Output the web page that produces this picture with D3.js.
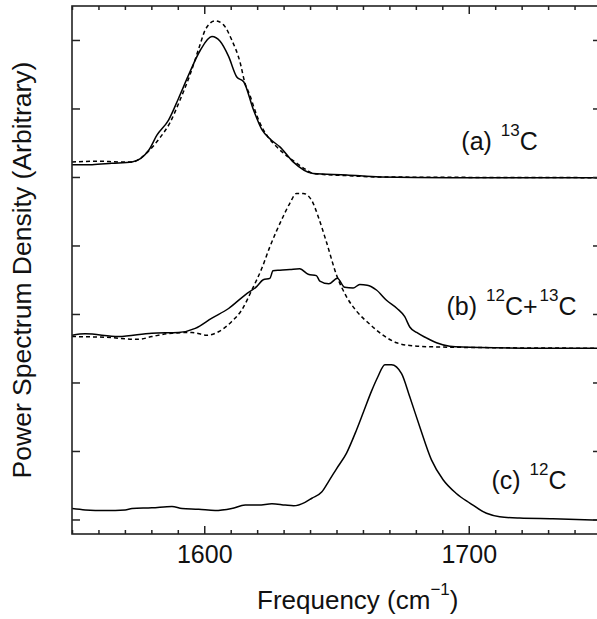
<!DOCTYPE html>
<html>
<head>
<meta charset="utf-8">
<script src="https://cdn.jsdelivr.net/npm/d3@7"></script>
<style>
  body { margin: 0; background: #fff; }
  svg text { font-family: "Liberation Sans", Arial, sans-serif; fill: #111; }
</style>
</head>
<body>
<svg id="chart" width="597" height="619"></svg>
<script>
// spectra as [frequency (cm^-1), power spectrum density (arbitrary, offset)]
var a13Sim = [[1550,5.18],[1557.6,5.18],[1565.1,5.20],[1572.7,5.22],[1579.0,5.39],[1582.1,5.61],[1586.5,5.83],
  [1590.3,6.15],[1594.1,6.49],[1598.5,6.85],[1602.9,7.05],[1606.0,6.98],[1609.2,6.76],[1612.3,6.46],
  [1614.9,6.39],[1618.6,5.98],[1621.8,5.69],[1625.3,5.54],[1628.6,5.44],[1633.6,5.22],[1641.2,5.05],
  [1653.8,5.03],[1666.4,5.00],[1692.8,4.99],[1750,4.99]];
var a13Fit = [[1550,5.22],[1560.6,5.23],[1567.6,5.22],[1572.7,5.22],[1579.0,5.38],[1583.2,5.57],[1587.0,5.79],
  [1590.8,6.12],[1594.6,6.49],[1598.4,6.93],[1600.4,7.15],[1604.1,7.28],[1607.3,7.22],[1610.4,7.00],
  [1613.5,6.68],[1615.4,6.37],[1617.2,6.20],[1619.1,5.98],[1621.0,5.79],[1624.0,5.59],[1627.4,5.44],
  [1635.0,5.20],[1638.8,5.10],[1641.2,5.05],[1653.8,5.02],[1666.4,5.00],[1750,4.99]];
var b1213Sim = [[1550,2.69],[1555.0,2.71],[1567.6,2.67],[1580.2,2.72],[1590.3,2.73],[1596.6,2.79],[1602.9,2.94],
  [1609.2,3.08],[1615.5,3.28],[1619.8,3.40],[1622.3,3.50],[1624.8,3.52],[1626.0,3.63],[1628.6,3.64],
  [1632.4,3.65],[1636.1,3.66],[1639.3,3.58],[1642.4,3.56],[1643.7,3.48],[1647.1,3.44],[1650.3,3.52],
  [1653.1,3.39],[1656.3,3.38],[1658.8,3.43],[1661.6,3.42],[1665.1,3.35],[1668.9,3.20],[1672.9,3.08],
  [1675.8,2.96],[1677.7,2.81],[1680.3,2.73],[1684.0,2.65],[1687.8,2.58],[1692.8,2.53],[1704.1,2.51],
  [1726.8,2.50],[1750,2.50]];
var b1213Fit = [[1550,2.67],[1562.6,2.66],[1575.2,2.63],[1580.2,2.67],[1587.8,2.72],[1595.3,2.73],[1601.0,2.69],
  [1605.4,2.74],[1610.4,2.89],[1614.2,3.06],[1618.0,3.35],[1621.8,3.67],[1624.8,3.98],[1627.3,4.21],
  [1629.8,4.42],[1632.4,4.62],[1634.9,4.76],[1637.4,4.76],[1640.6,4.66],[1643.1,4.42],[1646.2,4.05],
  [1650.0,3.57],[1653.8,3.25],[1657.6,3.04],[1662.6,2.85],[1667.6,2.69],[1672.7,2.58],[1677.7,2.54],
  [1686.5,2.52],[1704.1,2.51],[1750,2.50]];
var c12Sim = [[1550,0.16],[1555.0,0.14],[1562.6,0.13],[1570.1,0.14],[1572.7,0.16],[1580.2,0.17],[1587.8,0.19],
  [1591.6,0.16],[1597.9,0.15],[1604.1,0.13],[1610.4,0.16],[1615.5,0.21],[1620.5,0.21],[1625.6,0.23],
  [1630.6,0.21],[1633.8,0.20],[1638.1,0.25],[1640.7,0.31],[1644.4,0.40],[1647.1,0.56],[1650.0,0.74],
  [1653.8,0.97],[1657.6,1.31],[1660.3,1.58],[1663.2,1.87],[1665.6,2.08],[1668.3,2.26],[1670.8,2.26],
  [1674.6,2.13],[1677.7,1.79],[1681.5,1.35],[1685.9,0.87],[1690.3,0.58],[1695.3,0.38],[1700.4,0.24],
  [1706.7,0.09],[1711.7,0.04],[1719.2,0.02],[1731.8,0.01],[1750,-0.01]];

var xMajor = [1600, 1700];
var yTicks = [0, 1, 2, 3, 4, 5, 6, 7];

var svg = d3.select("#chart"),
    plotL = 72, plotR = 601, plotT = 6, plotB = 534;

var x = d3.scaleLinear().domain([1550, 1750]).range([plotL, plotR]);
var y = d3.scaleLinear().domain([-0.212, 7.496]).range([plotB, plotT]);

svg.append("clipPath").attr("id", "plotclip")
  .append("rect").attr("x", plotL).attr("y", plotT).attr("width", plotR - plotL).attr("height", plotB - plotT);

var line = d3.line()
    .x(function(d) { return x(d[0]); })
    .y(function(d) { return y(d[1]); })
    .curve(d3.curveMonotoneX);

var curves = [
  { data: a13Fit, dash: "4,3" },
  { data: a13Sim, dash: null },
  { data: b1213Fit, dash: "4,3" },
  { data: b1213Sim, dash: null },
  { data: c12Sim, dash: null }
];

var g = svg.append("g").attr("clip-path", "url(#plotclip)");
g.selectAll("path.curve")
  .data(curves)
  .enter().append("path")
    .attr("class", "curve")
    .attr("d", function(d) { return line(d.data); })
    .attr("fill", "none")
    .attr("stroke", "#000")
    .attr("stroke-width", 1.5)
    .attr("stroke-dasharray", function(d) { return d.dash; });

// axes: inward ticks on all four sides
function styleAxis(sel) {
  sel.select(".domain").remove();
  sel.selectAll("line").attr("stroke", "#222").attr("stroke-width", 1.5);
  sel.selectAll("text").attr("font-size", 25).attr("fill", "#111")
    .attr("font-family", "'Liberation Sans', Arial, sans-serif");
}

var minor = d3.range(1550, 1751, 10).filter(function(v) { return xMajor.indexOf(v) < 0; });

svg.append("g").attr("transform", "translate(0," + plotB + ")")
  .call(d3.axisBottom(x).tickValues(minor).tickSize(-4).tickFormat(""))
  .call(styleAxis);
svg.append("g").attr("transform", "translate(0," + plotB + ")")
  .call(d3.axisBottom(x).tickValues(xMajor).tickSize(-8).tickPadding(11).tickFormat(d3.format("d")))
  .call(styleAxis);
svg.append("g").attr("transform", "translate(0," + plotT + ")")
  .call(d3.axisTop(x).tickValues(minor).tickSize(-4).tickFormat(""))
  .call(styleAxis);
svg.append("g").attr("transform", "translate(0," + plotT + ")")
  .call(d3.axisTop(x).tickValues(xMajor).tickSize(-8).tickFormat(""))
  .call(styleAxis);
svg.append("g").attr("transform", "translate(" + plotL + ",0)")
  .call(d3.axisLeft(y).tickValues(yTicks).tickSize(-8).tickFormat(""))
  .call(styleAxis);
svg.append("g").attr("transform", "translate(" + plotR + ",0)")
  .call(d3.axisRight(y).tickValues(yTicks).tickSize(-8).tickFormat(""))
  .call(styleAxis);

svg.append("rect")
  .attr("x", plotL).attr("y", plotT)
  .attr("width", plotR - plotL).attr("height", plotB - plotT)
  .attr("fill", "none").attr("stroke", "#222").attr("stroke-width", 1.6);

// curve labels
var labels = [
  { x: 1697.2, v: 5.39, parts: [["(a) ", 0], ["13", 1], ["C", 0]] },
  { x: 1691.6, v: 2.99, parts: [["(b) ", 0], ["12", 1], ["C+", 0], ["13", 1], ["C", 0]] },
  { x: 1708.6, v: 0.44, parts: [["(c) ", 0], ["12", 1], ["C", 0]] }
];
labels.forEach(function(l) {
  var t = svg.append("text").attr("x", x(l.x)).attr("y", y(l.v)).attr("font-size", 25);
  var prevSup = 0;
  l.parts.forEach(function(p) {
    var dy = p[1] === prevSup ? 0 : (p[1] ? -14 : 14);
    t.append("tspan").attr("dy", dy).attr("dx", p[1] ? 2 : 0)
      .attr("font-size", p[1] ? 17 : 25).text(p[0]);
    prevSup = p[1];
  });
});

// axis titles
var xt = svg.append("text").attr("x", 257).attr("y", 609).attr("font-size", 26);
xt.append("tspan").text("Frequency (cm");
xt.append("tspan").attr("dy", -14).attr("font-size", 17).text("\u22121");
xt.append("tspan").attr("dy", 14).text(")");

svg.append("text")
  .attr("transform", "translate(31," + (plotT + plotB) / 2 + ") rotate(-90)")
  .attr("text-anchor", "middle")
  .attr("font-size", 26.5)
  .text("Power Spectrum Density (Arbitrary)");
</script>
</body>
</html>
